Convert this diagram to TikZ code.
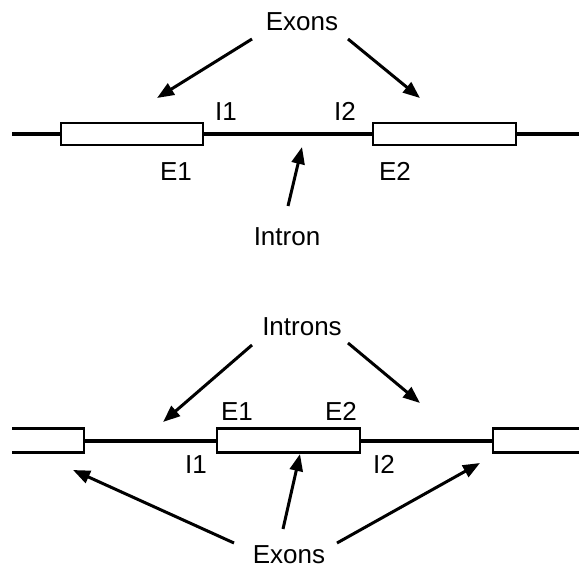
\documentclass[tikz,border=0pt]{standalone}
\usepackage{fontspec}
\setmainfont{Liberation Sans}
\usetikzlibrary{arrows.meta}
\begin{document}
\begin{tikzpicture}[x=1pt,y=-1pt,
  lbl/.style={inner sep=0pt, anchor=base, font=\fontsize{26}{30}\selectfont},
  strand/.style={line width=3.5pt},
  exonbox/.style={draw, line width=2.3pt, fill=white, rectangle, inner sep=0pt, minimum height=22pt},
  cutbox/.style={draw, line width=2.3pt, fill=white},
  pointer/.style={line width=3pt, -{Triangle[length=17pt,width=13pt]}}
]
\useasboundingbox (0,0) rectangle (579,568);

% ---------- top panel ----------
\coordinate (ts) at (12,134);
\coordinate (te) at (579,134);
\draw[strand] (ts) -- (te);
\node[exonbox, minimum width=142pt] (tE1) at (132,134) {};
\node[exonbox, minimum width=143pt] (tE2) at (444.5,134) {};

\node[lbl] (texons) at (302,30) {Exons};
\node[lbl] (tI1) at (226,120) {I1};
\node[lbl] (tI2) at (345,120) {I2};
\node[lbl] (tE1l) at (176,180) {E1};
\node[lbl] (tE2l) at (395,180) {E2};
\node[lbl] (tintron) at (287,245) {Intron};

\coordinate (ta1s) at (252,39);  \coordinate (ta1e) at (157,98);
\coordinate (ta2s) at (348,39);  \coordinate (ta2e) at (420,98);
\coordinate (ta3s) at (288,206); \coordinate (ta3e) at (302,147);
\draw[pointer] (ta1s) -- (ta1e);
\draw[pointer] (ta2s) -- (ta2e);
\draw[pointer] (ta3s) -- (ta3e);

% ---------- bottom panel ----------
\coordinate (bs) at (85,441);
\coordinate (be) at (492,441);
\draw[strand] (bs) -- (be);
\draw[cutbox] (12,428.5) -- (84,428.5) -- (84,452.5) -- (12,452.5);
\draw[cutbox] (580,428.5) -- (493,428.5) -- (493,452.5) -- (580,452.5);
\node[exonbox, minimum width=143pt, minimum height=24pt] (bE) at (288.5,440.5) {};

\node[lbl] (bintrons) at (302,335) {Introns};
\node[lbl] (bE1l) at (237,420) {E1};
\node[lbl] (bE2l) at (341,420) {E2};
\node[lbl] (bI1) at (196,473) {I1};
\node[lbl] (bI2) at (384,473) {I2};
\node[lbl] (bexons) at (289,563) {Exons};

\coordinate (ba1s) at (252,345); \coordinate (ba1e) at (163,422);
\coordinate (ba2s) at (348,343); \coordinate (ba2e) at (420,403);
\coordinate (ba3s) at (283,529); \coordinate (ba3e) at (300,454);
\coordinate (ba4s) at (234,543); \coordinate (ba4e) at (73,470);
\coordinate (ba5s) at (337,543); \coordinate (ba5e) at (480,463);
\draw[pointer] (ba1s) -- (ba1e);
\draw[pointer] (ba2s) -- (ba2e);
\draw[pointer] (ba3s) -- (ba3e);
\draw[pointer] (ba4s) -- (ba4e);
\draw[pointer] (ba5s) -- (ba5e);
\end{tikzpicture}
\end{document}
